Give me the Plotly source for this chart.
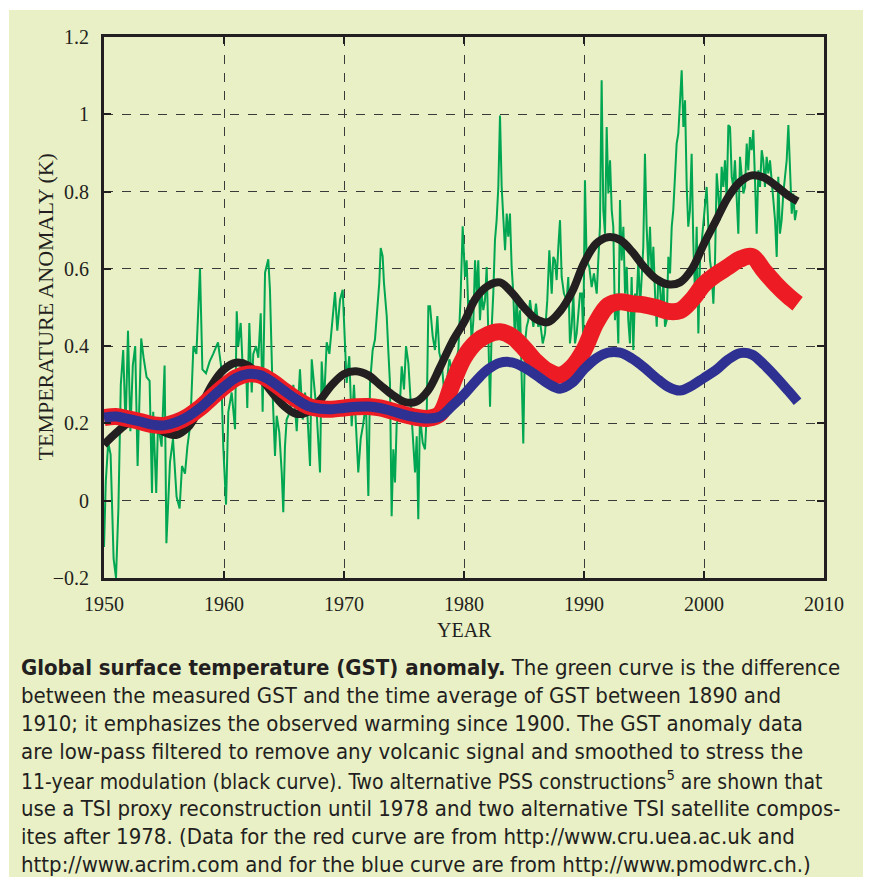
import plotly.graph_objects as go

# ---------------- data ----------------
green_year = [
    1950.0, 1950.15, 1950.35, 1950.55, 1950.8, 1951.0, 1951.2, 1951.4, 1951.6, 1951.8,
    1952.0, 1952.2, 1952.4, 1952.6, 1952.8, 1953.1, 1953.3, 1953.55, 1953.8, 1954.0,
    1954.1, 1954.35, 1954.5, 1954.8, 1955.05, 1955.2, 1955.5, 1955.75, 1956.05, 1956.3,
    1956.5, 1956.75, 1956.95, 1957.2, 1957.45, 1957.7, 1958.0, 1958.2, 1958.5, 1958.8,
    1959.1, 1959.5, 1959.75, 1959.94, 1960.17, 1960.36, 1960.64, 1960.92, 1961.06, 1961.19,
    1961.39, 1961.61, 1961.83, 1961.94, 1962.11, 1962.31, 1962.44, 1962.67, 1962.86, 1963.06,
    1963.22, 1963.42, 1963.69, 1963.83, 1964.06, 1964.25, 1964.39, 1964.61, 1964.81, 1964.94,
    1965.08, 1965.22, 1965.5, 1965.78, 1966.06, 1966.33, 1966.56, 1966.75, 1966.94, 1967.17,
    1967.31, 1967.5, 1967.72, 1968.0, 1968.14, 1968.33, 1968.56, 1968.78, 1968.97, 1969.25,
    1969.44, 1969.67, 1969.89, 1970.08, 1970.22, 1970.44, 1970.64, 1970.83, 1971.06, 1971.19,
    1971.39, 1971.61, 1971.83, 1972.03, 1972.17, 1972.39, 1972.58, 1972.78, 1972.94, 1973.06,
    1973.22, 1973.33, 1973.56, 1973.69, 1973.83, 1973.97, 1974.11, 1974.25, 1974.39, 1974.61,
    1974.81, 1975.0, 1975.17, 1975.36, 1975.56, 1975.78, 1975.92, 1976.06, 1976.19, 1976.33,
    1976.56, 1976.75, 1976.89, 1977.03, 1977.17, 1977.39, 1977.58, 1977.78, 1977.94, 1978.14,
    1978.33, 1978.56, 1978.78, 1978.97, 1979.25, 1979.53, 1979.72, 1979.89, 1980.08, 1980.22,
    1980.36, 1980.5, 1980.64, 1980.78, 1980.92, 1981.06, 1981.19, 1981.33, 1981.47, 1981.61,
    1981.75, 1981.89, 1982.03, 1982.17, 1982.31, 1982.44, 1982.58, 1982.72, 1982.86, 1983.0,
    1983.14, 1983.28, 1983.42, 1983.56, 1983.69, 1983.83, 1983.97, 1984.11, 1984.25, 1984.39,
    1984.53, 1984.67, 1984.81, 1984.94, 1985.08, 1985.22, 1985.36, 1985.5, 1985.78, 1986.0,
    1986.19, 1986.33, 1986.56, 1986.75, 1986.94, 1987.11, 1987.31, 1987.44, 1987.58, 1987.72,
    1987.86, 1988.0, 1988.14, 1988.33, 1988.56, 1988.69, 1988.83, 1988.97, 1989.11, 1989.25,
    1989.39, 1989.53, 1989.67, 1989.81, 1989.94, 1990.08, 1990.22, 1990.44, 1990.64, 1990.83,
    1991.06, 1991.19, 1991.33, 1991.47, 1991.61, 1991.75, 1991.89, 1992.03, 1992.17, 1992.31,
    1992.44, 1992.58, 1992.72, 1992.86, 1993.0, 1993.14, 1993.28, 1993.42, 1993.56, 1993.69,
    1993.83, 1993.97, 1994.11, 1994.25, 1994.39, 1994.53, 1994.67, 1994.81, 1994.94, 1995.08,
    1995.22, 1995.36, 1995.5, 1995.64, 1995.78, 1995.92, 1996.06, 1996.19, 1996.33, 1996.47,
    1996.61, 1996.75, 1996.89, 1997.03, 1997.17, 1997.31, 1997.44, 1997.58, 1997.72, 1997.86,
    1998.0, 1998.14, 1998.28, 1998.42, 1998.56, 1998.69, 1998.83, 1998.97, 1999.11, 1999.25,
    1999.39, 1999.53, 1999.67, 1999.81, 1999.94, 2000.08, 2000.22, 2000.36, 2000.5, 2000.64,
    2000.78, 2000.92, 2001.06, 2001.19, 2001.33, 2001.47, 2001.61, 2001.75, 2001.89, 2002.03,
    2002.17, 2002.31, 2002.44, 2002.58, 2002.72, 2002.86, 2003.0, 2003.14, 2003.28, 2003.42,
    2003.56, 2003.69, 2003.83, 2003.97, 2004.11, 2004.25, 2004.39, 2004.53, 2004.67, 2004.81,
    2004.94, 2005.08, 2005.22, 2005.36, 2005.5, 2005.64, 2005.78, 2005.92, 2006.06, 2006.19,
    2006.33, 2006.47, 2006.61, 2006.75, 2006.89, 2007.03, 2007.17, 2007.31, 2007.44, 2007.58,
    2007.72,
]
green_val = [
    -0.12, 0.05, 0.15, 0.12, -0.15, -0.2, -0.02, 0.30, 0.39, 0.19,
    0.44, 0.18, 0.35, 0.40, 0.09, 0.42, 0.37, 0.32, 0.31, 0.02,
    0.23, 0.02, 0.20, 0.14, 0.35, -0.11, 0.10, 0.16, 0.01, -0.02,
    0.09, 0.07, 0.14, 0.20, 0.40, 0.38, 0.60, 0.34, 0.33, 0.36,
    0.38, 0.41, 0.35, 0.14, -0.01, 0.23, 0.28, 0.185, 0.49, 0.40,
    0.46, 0.31, 0.36, 0.24, 0.46, 0.28, 0.38, 0.40, 0.37, 0.485,
    0.23, 0.59, 0.625, 0.546, 0.27, 0.116, 0.22, 0.176, 0.073, -0.03,
    0.14, 0.21, 0.23, 0.30, 0.18, 0.34, 0.21, 0.28, 0.23, 0.09,
    0.366, 0.30, 0.23, 0.073, 0.36, 0.25, 0.41, 0.38, 0.44, 0.54,
    0.44, 0.52, 0.546, 0.426, 0.305, 0.374, 0.193, 0.30, 0.133, 0.073,
    0.16, 0.20, 0.254, 0.012, 0.305, 0.39, 0.417, 0.495, 0.564, 0.654,
    0.633, 0.564, 0.478, 0.39, 0.305, -0.04, 0.133, 0.047, 0.20, 0.219,
    0.348, 0.288, 0.40, 0.357, 0.262, 0.133, 0.073, 0.167, -0.048, 0.219,
    0.15, 0.133, 0.219, 0.503, 0.503, 0.426, 0.39, 0.478, 0.383, 0.357,
    0.288, 0.305, 0.366, 0.34, 0.348, 0.39, 0.53, 0.71, 0.579, 0.622,
    0.493, 0.519, 0.407, 0.467, 0.622, 0.536, 0.622, 0.467, 0.536, 0.493,
    0.519, 0.605, 0.407, 0.243, 0.45, 0.536, 0.674, 0.726, 0.812, 0.997,
    0.812, 0.709, 0.648, 0.743, 0.683, 0.743, 0.605, 0.536, 0.407, 0.536,
    0.433, 0.493, 0.321, 0.148, 0.407, 0.45, 0.467, 0.519, 0.45, 0.51,
    0.45, 0.467, 0.407, 0.433, 0.519, 0.648, 0.536, 0.631, 0.622, 0.571,
    0.657, 0.726, 0.579, 0.536, 0.519, 0.579, 0.407, 0.45, 0.536, 0.407,
    0.433, 0.493, 0.536, 0.536, 0.424, 0.829, 0.622, 0.605, 0.553, 0.588,
    0.536, 0.622, 0.709, 1.088, 0.752, 0.691, 0.967, 0.795, 0.881, 0.752,
    0.709, 0.467, 0.536, 0.407, 0.778, 0.622, 0.709, 0.536, 0.605, 0.467,
    0.407, 0.579, 0.39, 0.536, 0.519, 0.622, 0.502, 0.579, 0.657, 0.898,
    0.709, 0.605, 0.709, 0.579, 0.657, 0.536, 0.45, 0.579, 0.553, 0.484,
    0.571, 0.45, 0.467, 0.631, 0.588, 0.709, 0.752, 0.838, 0.924, 0.95,
    1.036, 1.114, 0.967, 1.036, 0.812, 0.709, 0.752, 0.898, 0.666, 0.536,
    0.709, 0.433, 0.622, 0.666, 0.709, 0.752, 0.812, 0.709, 0.622, 0.588,
    0.51, 0.622, 0.847, 0.795, 0.726, 0.864, 0.812, 0.881, 0.778, 0.972,
    0.967, 0.838, 0.812, 0.881, 0.778, 0.691, 0.89, 0.838, 0.795, 0.812,
    0.924, 0.855, 0.941, 0.907, 0.959, 0.829, 0.691, 0.855, 0.812, 0.907,
    0.881, 0.812, 0.89, 0.847, 0.881, 0.829, 0.778, 0.726, 0.631, 0.838,
    0.691, 0.726, 0.795, 0.838, 0.881, 0.972, 0.838, 0.743, 0.795, 0.726,
    0.752,
]

smooth_year = [
    1950, 1951, 1952, 1953, 1954, 1955, 1956, 1957, 1958, 1959,
    1960, 1961, 1962, 1963, 1964, 1965, 1966, 1967, 1968, 1969,
    1970, 1971, 1972, 1973, 1974, 1975, 1976, 1977, 1978, 1979,
    1980, 1981, 1982, 1983, 1984, 1985, 1986, 1987, 1988, 1989,
    1990, 1991, 1992, 1993, 1994, 1995, 1996, 1997, 1998, 1999,
    2000, 2001, 2002, 2003, 2004, 2005, 2006, 2007, 2007.8,
]
black_val = [
    0.145, 0.175, 0.200, 0.205, 0.195, 0.178, 0.170, 0.190, 0.240, 0.300,
    0.340, 0.357, 0.350, 0.320, 0.280, 0.245, 0.225, 0.230, 0.260, 0.300,
    0.328, 0.335, 0.325, 0.300, 0.275, 0.256, 0.256, 0.285, 0.345, 0.410,
    0.462, 0.525, 0.556, 0.565, 0.538, 0.500, 0.470, 0.462, 0.490, 0.540,
    0.615, 0.665, 0.682, 0.675, 0.645, 0.605, 0.574, 0.560, 0.565, 0.600,
    0.665, 0.725, 0.785, 0.825, 0.842, 0.836, 0.815, 0.790, 0.775,
]
red_val = [
    0.215, 0.218, 0.212, 0.205, 0.197, 0.195, 0.203, 0.218, 0.240, 0.268,
    0.295, 0.318, 0.328, 0.325, 0.308, 0.285, 0.263, 0.245, 0.238, 0.237,
    0.240, 0.243, 0.244, 0.240, 0.232, 0.223, 0.216, 0.213, 0.225, 0.300,
    0.370, 0.410, 0.430, 0.437, 0.425, 0.395, 0.360, 0.335, 0.325, 0.345,
    0.390, 0.460, 0.505, 0.515, 0.510, 0.507, 0.500, 0.490, 0.492, 0.520,
    0.560, 0.585, 0.605, 0.625, 0.632, 0.595, 0.560, 0.530, 0.510,
]
blue_val = [
    0.215, 0.218, 0.212, 0.205, 0.197, 0.195, 0.203, 0.218, 0.240, 0.268,
    0.295, 0.318, 0.328, 0.325, 0.308, 0.285, 0.263, 0.245, 0.238, 0.237,
    0.240, 0.243, 0.244, 0.240, 0.232, 0.223, 0.216, 0.213, 0.218, 0.245,
    0.275, 0.310, 0.340, 0.357, 0.358, 0.345, 0.325, 0.303, 0.290, 0.305,
    0.340, 0.368, 0.383, 0.383, 0.368, 0.345, 0.318, 0.295, 0.285, 0.298,
    0.318, 0.338, 0.365, 0.382, 0.378, 0.352, 0.320, 0.285, 0.256,
]

x_ticks = [1950, 1960, 1970, 1980, 1990, 2000, 2010]
y_ticks = [-0.2, 0, 0.2, 0.4, 0.6, 0.8, 1.0, 1.2]
y_tick_text = ["\u22120.2", "0", "0.2", "0.4", "0.6", "0.8", "1", "1.2"]

caption_lines = [
    "<b>Global surface temperature (GST) anomaly.</b> The green curve is the difference",
    "between the measured GST and the time average of GST between 1890 and",
    "1910; it emphasizes the observed warming since 1900. The GST anomaly data",
    "are low-pass filtered to remove any volcanic signal and smoothed to stress the",
    "11-year modulation (black curve). Two alternative PSS constructions<sup>5</sup> are shown that",
    "use a TSI proxy reconstruction until 1978 and two alternative TSI satellite compos-",
    "ites after 1978. (Data for the red curve are from http://www.cru.uea.ac.uk and",
    "http://www.acrim.com and for the blue curve are from http://www.pmodwrc.ch.)",
]
caption_sizes = [22, 22, 22, 22, 21, 22, 22, 22]

# ---------------- figure ----------------
# the page body has an 8px margin; keep the figure inside the window
W, H = 863, 869
L, R, T, B = 96, 47, 29, 299
pw, ph = W - L - R, H - T - B


def px(xp):
    return (xp - L) / pw


def py(yp):
    return (H - B - yp) / ph


fig = go.Figure()
fig.add_trace(go.Scatter(x=green_year, y=green_val, mode="lines",
                         line=dict(color="#00a651", width=2), hoverinfo="skip"))
fig.add_trace(go.Scatter(x=smooth_year, y=black_val, mode="lines",
                         line=dict(color="#231f20", width=8, shape="spline"), hoverinfo="skip"))
fig.add_trace(go.Scatter(x=smooth_year, y=red_val, mode="lines",
                         line=dict(color="#ed1c24", width=17, shape="spline"), hoverinfo="skip"))
fig.add_trace(go.Scatter(x=smooth_year, y=blue_val, mode="lines",
                         line=dict(color="#2e3192", width=10, shape="spline"), hoverinfo="skip"))

serif = "Liberation Serif, Times New Roman, serif"
sans = "DejaVu Sans Condensed, Liberation Sans Narrow, DejaVu Sans, sans-serif"

axis_common = dict(
    showline=True, linecolor="#231f20", linewidth=3, mirror="ticks",
    ticks="inside", ticklen=7, tickwidth=2, tickcolor="#231f20",
    showgrid=True, gridcolor="#3a3a3a", gridwidth=1.2, griddash="dash",
    zeroline=False, tickfont=dict(family=serif, size=20, color="#231f20"),
)

fig.update_xaxes(range=[1950, 2010], tickvals=x_ticks, ticklabelstandoff=6, **axis_common)
fig.update_yaxes(range=[-0.2, 1.2], tickvals=y_ticks, ticktext=y_tick_text,
                 ticklabelstandoff=8, **axis_common)

shapes = [dict(type="rect", xref="paper", yref="paper", layer="below",
               x0=px(1), x1=px(870), y0=py(880), y1=py(2),
               fillcolor="#e9f0c5", line=dict(width=0))]

annotations = [
    dict(text="YEAR", xref="paper", yref="paper", x=0.5, y=py(622),
         xanchor="center", yanchor="middle", showarrow=False,
         font=dict(family=serif, size=20, color="#231f20")),
    dict(text="TEMPERATURE ANOMALY (K)", xref="paper", yref="paper", x=px(37), y=0.5,
         xanchor="center", yanchor="middle", showarrow=False, textangle=-90,
         font=dict(family=serif, size=22, color="#231f20")),
]
line_y0, line_dy = 659, 28.2
for i, txt in enumerate(caption_lines):
    annotations.append(dict(
        text=txt, xref="paper", yref="paper", x=px(11), y=py(line_y0 + i * line_dy),
        xanchor="left", yanchor="middle", showarrow=False,
        font=dict(family=sans, size=caption_sizes[i], color="#231f20"),
    ))

fig.update_layout(
    width=W, height=H, margin=dict(l=L, r=R, t=T, b=B),
    paper_bgcolor="white", plot_bgcolor="white",
    showlegend=False, shapes=shapes, annotations=annotations,
)

fig.write_html("out.html")
